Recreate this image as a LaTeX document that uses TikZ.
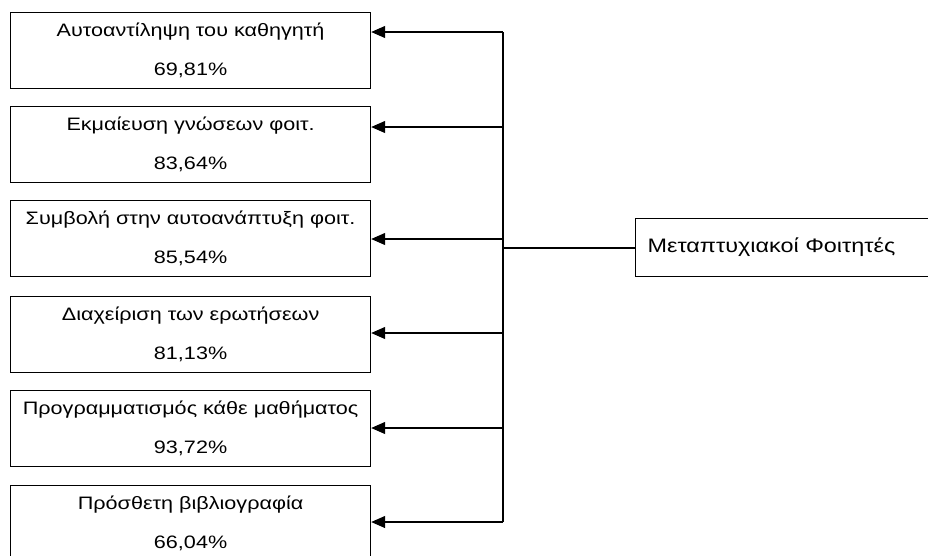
\documentclass[tikz,border=0pt]{standalone}
\usepackage{fontspec}
\setmainfont{Liberation Sans}[FakeStretch=1.2]
\usetikzlibrary{arrows.meta}
\begin{document}
\begin{tikzpicture}[x=1pt,y=-1pt,
  box/.style={draw, line width=1.2pt, minimum width=360pt, minimum height=76pt,
    anchor=north west, align=center, inner sep=0pt,
    font=\fontsize{18}{38.5}\selectfont},
  mainbox/.style={draw, line width=1.2pt, minimum height=58pt, text width=276pt,
    inner xsep=12pt, inner ysep=0pt, align=left, anchor=north west,
    font=\fontsize{19.5}{22}\selectfont},
  arr/.style={line width=1.2pt, -{Triangle[length=14pt,width=12pt]}},
  ln/.style={line width=1.2pt}]
\useasboundingbox (0,0) rectangle (928,555);
\clip (0,0) rectangle (928,555);
\node[box] (b1) at (10,12) {Αυτοαντίληψη του καθηγητή\\69,81\%};
\node[box] (b2) at (10,106) {Εκμαίευση γνώσεων φοιτ.\\83,64\%};
\node[box] (b3) at (10,200) {Συμβολή στην αυτοανάπτυξη φοιτ.\\85,54\%};
\node[box] (b4) at (10,296) {Διαχείριση των ερωτήσεων\\81,13\%};
\node[box] (b5) at (10,390) {Προγραμματισμός κάθε μαθήματος\\93,72\%};
\node[box] (b6) at (10,485) {Πρόσθετη βιβλιογραφία\\66,04\%};
\node[mainbox] (m) at (635,218) {Μεταπτυχιακοί Φοιτητές};
\coordinate (v1) at (503,32);
\coordinate (v2) at (503,127);
\coordinate (v3) at (503,239);
\coordinate (v4) at (503,333);
\coordinate (v5) at (503,428);
\coordinate (v6) at (503,522);
\coordinate (vm) at (503,248);
\draw[ln] (v1) -- (v6);
\draw[ln] (vm) -- (m.west |- vm);
\foreach \i in {1,...,6} {
  \draw[arr] (v\i) -- (b\i.east |- v\i);
}
\end{tikzpicture}
\end{document}
